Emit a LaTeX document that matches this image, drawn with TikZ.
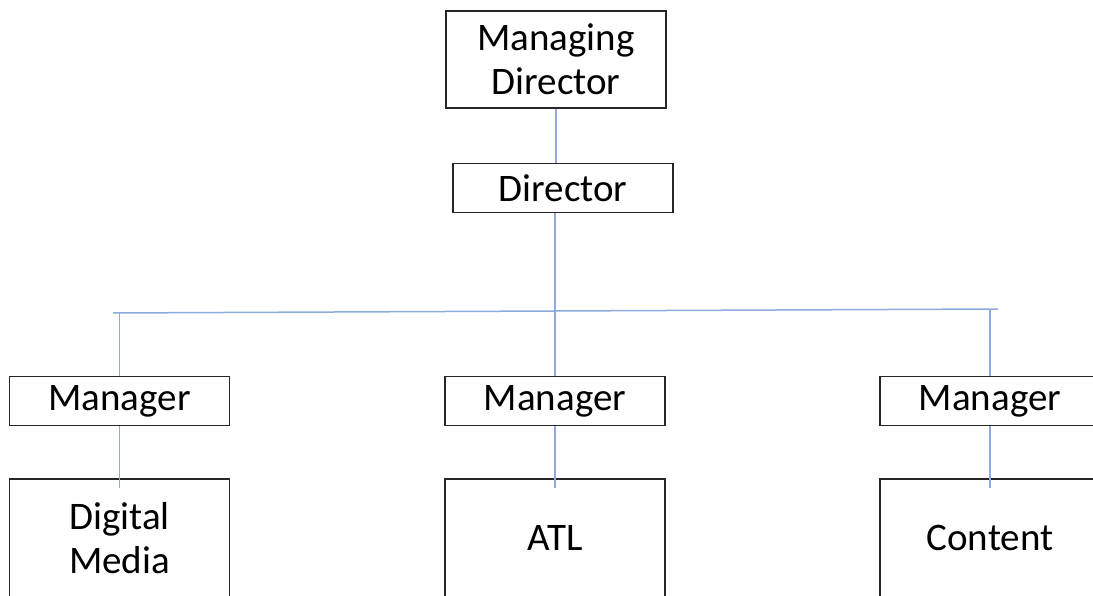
\documentclass[tikz,border=0pt]{standalone}
\usepackage{fontspec}
\setmainfont{Carlito}

\begin{document}
\begin{tikzpicture}[x=1pt, y=-1pt,
    box/.style={rectangle, draw=black!85, line width=1.2pt, minimum width=220pt,
      align=center, inner sep=0pt, font=\fontsize{39}{44}\selectfont},
    link/.style={draw={rgb,255:red,143;green,170;blue,220}, line width=1.5pt}]
    \useasboundingbox (0,0) rectangle (1093,596);
    \clip (0,0) rectangle (1093,596);
    \node [box, minimum height=97pt] (md) at (556, 59.5) {Managing\\Director};
    \node [box, minimum height=49pt] (dir) at (563, 188) {Director};
    \foreach \px/\id/\unit in {119.5/a/Digital\\Media, 555/b/ATL, 990/c/Content} {
      \node [box, minimum height=49pt] (mgr\id) at (\px, 401) {Manager};
      \node [box, minimum height=118pt] (unit\id) at (\px, 538) {\unit};
    }
    \coordinate (barL) at (113, 313);
    \coordinate (barR) at (998, 309);
    \draw [link] (md.south) -- (md.south |- dir.north);
    \draw [link] (mgrb.north |- dir.south) -- (mgrb.north);
    \draw [link] (barL) -- (barR);
    \draw [link] (mgra.north |- barL) -- (mgra.north);
    \draw [link] (mgrc.north |- barR) -- (mgrc.north);
    \foreach \id in {a,b,c} {
      \draw [link] (mgr\id.south) -- ([yshift=-10pt]unit\id.north);
    }
  \end{tikzpicture}
\end{document}
